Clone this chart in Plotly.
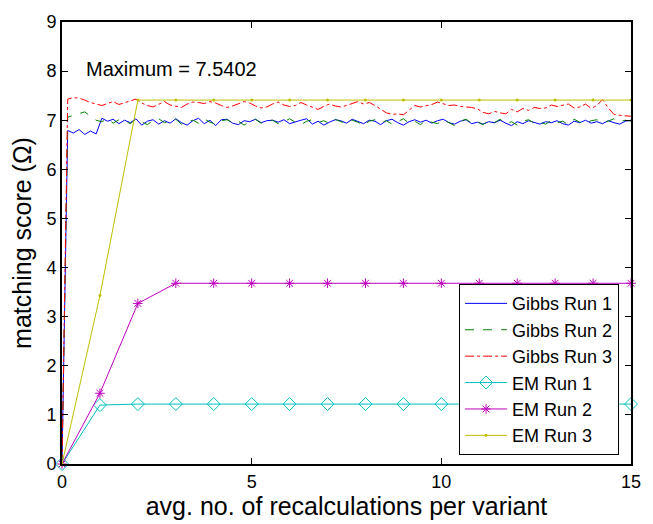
import plotly.graph_objects as go

# ---------------- data ----------------
# Gibbs runs: samples every 0.15 recalculations (plus the origin)
gibbs_step = 0.15
gibbs1 = [0.0,
    6.79, 6.74, 6.81, 6.71, 6.78, 6.72,
    7.04,
    6.98, 7.02, 6.93, 7.00, 6.95, 7.03, 6.90, 6.98, 7.01, 6.92, 6.99,
    6.94, 7.03, 6.95, 6.90, 6.99, 7.04, 6.93, 7.00, 6.89, 7.01, 7.02,
    6.94, 6.91, 6.99, 6.97, 7.02, 6.95, 6.99, 7.00, 6.96, 7.01, 6.93,
    6.97, 7.00, 7.03, 6.92, 6.98, 6.90, 6.96, 7.01, 6.99, 6.94, 7.02,
    6.97, 6.93, 7.00, 6.98, 6.91, 6.99, 7.02, 6.95, 6.90, 6.97, 7.01,
    6.96, 7.00, 6.94, 6.99, 7.02, 6.95, 6.92, 6.98, 7.01, 6.93, 6.96,
    6.92, 6.97, 6.95, 7.00, 6.94, 6.89, 6.97, 6.93, 6.99, 6.96, 6.92,
    6.97, 6.95, 6.99, 6.93, 6.90, 6.98, 6.95, 7.00, 6.94, 6.97, 6.93,
    6.99, 6.95, 6.92, 6.98, 7.00]
gibbs2 = [0.0,
    7.06, 7.10, 7.14, 7.17,
    7.08, 7.00, 6.97, 7.03, 6.94, 7.01, 6.99, 6.93, 7.02, 6.96,
    6.91, 6.99, 7.03, 6.95, 6.98, 7.02, 6.92, 6.97, 7.00, 6.94,
    7.03, 6.96, 6.92, 6.99, 7.01, 6.95, 6.98, 6.90, 6.97, 7.02,
    6.94, 6.99, 7.00, 6.93, 6.97, 7.03, 6.96, 6.91, 6.98, 7.01,
    6.95, 6.99, 6.93, 7.02, 6.97, 6.94, 7.00, 6.96, 6.89, 6.98,
    7.01, 6.95, 6.99, 6.92, 6.97, 7.03, 6.94, 6.98, 6.91, 7.00,
    6.96, 6.93, 7.01, 6.95, 6.89, 6.98, 7.02, 6.94, 6.97, 6.91,
    6.99, 6.95, 7.02, 6.93, 6.97, 6.90, 6.98, 7.01, 6.94, 6.96,
    6.92, 7.00, 6.95, 6.98, 6.91, 7.02, 6.96, 6.93, 6.99, 7.01,
    6.95, 6.98, 7.03, 6.97, 7.00, 6.98]
gibbs3 = [0.0,
    7.43, 7.46, 7.45, 7.41, 7.36, 7.33, 7.30, 7.34, 7.38, 7.32,
    7.36, 7.40, 7.43, 7.35, 7.30, 7.27, 7.33, 7.38, 7.31, 7.28,
    7.26, 7.33, 7.37, 7.36, 7.34, 7.38, 7.35, 7.30, 7.26, 7.29,
    7.33, 7.38, 7.35, 7.29, 7.25, 7.27, 7.33, 7.37, 7.31, 7.28,
    7.30, 7.36, 7.31, 7.26, 7.22, 7.28, 7.33, 7.29, 7.27, 7.30,
    7.34, 7.38, 7.33, 7.36, 7.30, 7.22, 7.15, 7.12, 7.13, 7.11,
    7.20, 7.30, 7.27, 7.29, 7.32, 7.37, 7.33, 7.30, 7.31, 7.28,
    7.27, 7.26, 7.23, 7.16, 7.13, 7.18, 7.15, 7.13, 7.22, 7.17,
    7.24, 7.20, 7.26, 7.24, 7.25, 7.31, 7.28, 7.30, 7.33, 7.25,
    7.27, 7.33, 7.24, 7.30, 7.42, 7.25, 7.12, 7.10, 7.09, 7.08]
gibbs_x = [round(i * gibbs_step, 2) for i in range(len(gibbs1))]

# EM runs: one value per recalculation
em_x = list(range(16))
em1 = [0.0, 1.20, 1.22, 1.22, 1.22, 1.22, 1.22, 1.22, 1.22, 1.22, 1.22, 1.22, 1.22, 1.22, 1.22, 1.22]
em2 = [0.0, 1.44, 3.27, 3.68, 3.68, 3.68, 3.68, 3.68, 3.68, 3.68, 3.68, 3.68, 3.68, 3.68, 3.68, 3.68]
em3 = [0.0, 3.43, 7.41, 7.41, 7.41, 7.41, 7.41, 7.41, 7.41, 7.41, 7.41, 7.41, 7.41, 7.41, 7.41, 7.41]

x_ticks = [0, 5, 10, 15]
y_ticks = [0, 1, 2, 3, 4, 5, 6, 7, 8, 9]
max_label = "Maximum = 7.5402"

FONT = "Liberation Sans, Arial, Helvetica, sans-serif"

fig = go.Figure()
fig.add_trace(go.Scatter(x=gibbs_x, y=gibbs1, mode="lines", name="Gibbs Run 1",
                         line=dict(color="#0000FF", width=1)))
fig.add_trace(go.Scatter(x=gibbs_x, y=gibbs2, mode="lines", name="Gibbs Run 2",
                         line=dict(color="#008000", width=1, dash="dash")))
fig.add_trace(go.Scatter(x=gibbs_x, y=gibbs3, mode="lines", name="Gibbs Run 3",
                         line=dict(color="#FF0000", width=1, dash="dashdot")))
fig.add_trace(go.Scatter(x=em_x, y=em1, mode="lines+markers", name="EM Run 1",
                         line=dict(color="#00BFBF", width=1),
                         marker=dict(symbol="diamond-open", size=10, color="#00BFBF",
                                     line=dict(width=1, color="#00BFBF")),
                         cliponaxis=False))
fig.add_trace(go.Scatter(x=em_x, y=em2, mode="lines+markers", name="EM Run 2",
                         line=dict(color="#BF00BF", width=1),
                         marker=dict(symbol="asterisk-open", size=8, color="#BF00BF",
                                     line=dict(width=1, color="#BF00BF")),
                         cliponaxis=False))
fig.add_trace(go.Scatter(x=em_x, y=em3, mode="lines+markers", name="EM Run 3",
                         line=dict(color="#BFBF00", width=1),
                         marker=dict(symbol="circle", size=3, color="#BFBF00"),
                         cliponaxis=False))

fig.add_annotation(x=0.57, y=8.04, xref="x", yref="y", text=max_label,
                   showarrow=False, xanchor="left", yanchor="middle",
                   font=dict(family=FONT, size=20, color="black"))

axis_common = dict(showline=True, linecolor="black", linewidth=2, mirror="ticks",
                   ticks="inside", ticklen=6, tickwidth=1, tickcolor="black",
                   showgrid=False, zeroline=False,
                   tickfont=dict(family=FONT, size=18, color="black"))

fig.update_xaxes(range=[0, 15], tickvals=x_ticks, ticktext=[str(v) for v in x_ticks],
                 title=dict(text="avg. no. of recalculations per variant",
                            font=dict(family=FONT, size=25, color="black"), standoff=3),
                 **axis_common)
fig.update_yaxes(range=[0, 9], tickvals=y_ticks, ticktext=[str(v) for v in y_ticks],
                 title=dict(text="matching score (Ω)",
                            font=dict(family=FONT, size=25, color="black"), standoff=8),
                 **axis_common)

fig.update_layout(
    width=653, height=524,
    margin=dict(l=62, r=12, t=12, b=57),
    paper_bgcolor="white", plot_bgcolor="white",
    font=dict(family=FONT, color="black"),
    legend=dict(x=0.979, y=0.02, xanchor="right", yanchor="bottom",
                bgcolor="white", bordercolor="black", borderwidth=1,
                font=dict(family=FONT, size=18, color="black"),
                tracegroupgap=0, itemwidth=42),
    showlegend=True,
)

fig.write_html("out.html")
